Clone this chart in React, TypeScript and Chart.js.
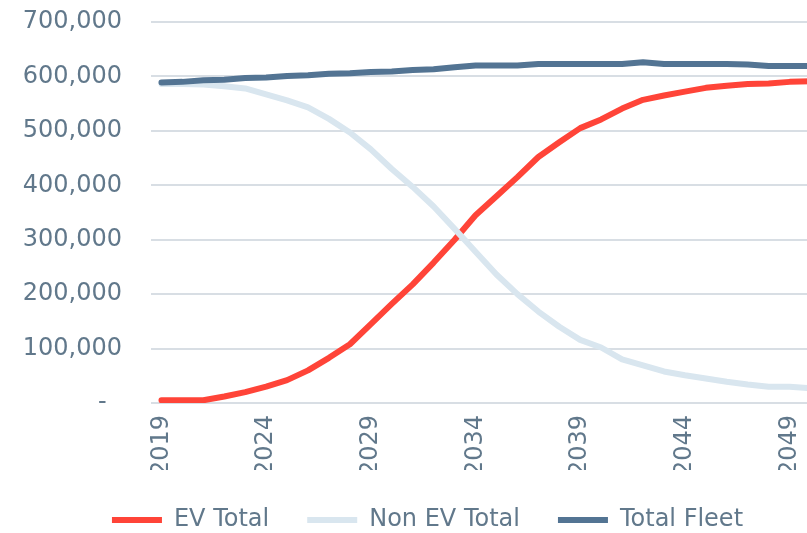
import React, { useEffect, useRef } from "react";
import { Chart, registerables } from "chart.js";

Chart.register(...registerables);

const years: string[] = [
  "2019", "2020", "2021", "2022", "2023", "2024", "2025", "2026", "2027", "2028",
  "2029", "2030", "2031", "2032", "2033", "2034", "2035", "2036", "2037", "2038",
  "2039", "2040", "2041", "2042", "2043", "2044", "2045", "2046", "2047", "2048",
  "2049", "2050",
];

const evTotal: number[] = [
  5000, 5000, 5000, 12000, 20000, 30000, 42000, 60000, 83000, 108000,
  145000, 182000, 218000, 258000, 300000, 345000, 380000, 415000, 452000, 479000,
  505000, 521000, 541000, 557000, 565000, 572000, 579000, 583000, 586000, 587000,
  590000, 591000,
];

const nonEvTotal: number[] = [
  586000, 586000, 585000, 582000, 578000, 567000, 556000, 543000, 522000, 497000,
  466000, 430000, 397000, 361000, 320000, 278000, 236000, 200000, 168000, 140000,
  116000, 102000, 80000, 69000, 58000, 51000, 45000, 39000, 34000, 30000,
  30000, 27000,
];

const totalFleet: number[] = [
  589000, 590000, 593000, 594000, 597000, 598000, 601000, 602000, 605000, 606000,
  608000, 609000, 612000, 613000, 617000, 620000, 620000, 620000, 623000, 623000,
  623000, 623000, 623000, 626000, 623000, 623000, 623000, 623000, 622000, 619000,
  619000, 619000,
];

const seriesNames: string[] = ["EV Total", "Non EV Total", "Total Fleet"];

const CANVAS_W = 821;
const CANVAS_H = 542;
const TEXT = "#61788b";
const GRID = "#d8dee4";

const shiftLegend = {
  id: "shiftLegend",
  afterLayout(chart: any) {
    const l = chart.legend;
    if (l) {
      l.left += 7;
      l.right += 7;
    }
  },
};

export default function App() {
  const ref = useRef<HTMLCanvasElement | null>(null);

  useEffect(() => {
    if (!ref.current) return;
    const mk = (label: string, data: number[], color: string, order: number) => ({
      label,
      data,
      borderColor: color,
      backgroundColor: color,
      borderWidth: 6,
      borderCapStyle: "round" as const,
      borderJoinStyle: "round" as const,
      pointRadius: 0,
      pointHoverRadius: 0,
      tension: 0,
      fill: false,
      order,
    });
    const chart = new Chart(ref.current, {
      type: "line",
      data: {
        labels: years,
        datasets: [
          mk(seriesNames[0], evTotal, "#ff4438", 3),
          mk(seriesNames[1], nonEvTotal, "#d9e6ef", 2),
          mk(seriesNames[2], totalFleet, "#537493", 1),
        ],
      },
      plugins: [shiftLegend],
      options: {
        responsive: false,
        animation: false,
        devicePixelRatio: 1,
        font: { family: "'DejaVu Sans'", size: 24 },
        layout: { padding: { left: 20, right: 0, top: 22, bottom: 0 } },
        plugins: {
          tooltip: { enabled: false },
          legend: {
            position: "bottom",
            labels: {
              usePointStyle: true,
              pointStyle: "line",
              pointStyleWidth: 50,
              boxHeight: 24,
              padding: 38,
              color: TEXT,
              font: { family: "'DejaVu Sans'", size: 24 },
              sort: (a: any, b: any) => a.datasetIndex - b.datasetIndex,
            },
          },
        },
        scales: {
          x: {
            offset: true,
            grid: { display: false, drawTicks: false },
            border: { display: false },
            ticks: {
              autoSkip: false,
              maxRotation: 90,
              minRotation: 90,
              padding: 12,
              color: TEXT,
              font: { family: "'DejaVu Sans'", size: 24 },
              callback: (_v: any, i: number) => (i % 5 === 0 ? years[i] : ""),
            },
            afterFit: (s: any) => {
              s.height = 67;
              s.paddingLeft = 0;
              s.paddingRight = 0;
            },
          },
          y: {
            min: 0,
            max: 700000,
            grid: { color: GRID, lineWidth: 2, drawTicks: false },
            border: { display: false },
            ticks: {
              stepSize: 100000,
              padding: 29,
              color: TEXT,
              font: { family: "'DejaVu Sans'", size: 24 },
              callback: (v: any) => (Number(v) === 0 ? "-  " : Number(v).toLocaleString("en-US")),
            },
            afterFit: (s: any) => {
              s.width = 131;
              s.paddingTop = 0;
              s.paddingBottom = 0;
            },
          },
        },
      },
    });
    return () => chart.destroy();
  }, []);

  return (
    <div
      style={{
        position: "fixed",
        left: 0,
        top: 0,
        width: 807,
        height: 533,
        overflow: "hidden",
        background: "#ffffff",
      }}
    >
      <canvas
        ref={ref}
        width={CANVAS_W}
        height={CANVAS_H}
        style={{ width: CANVAS_W, height: CANVAS_H, display: "block" }}
      />
    </div>
  );
}
